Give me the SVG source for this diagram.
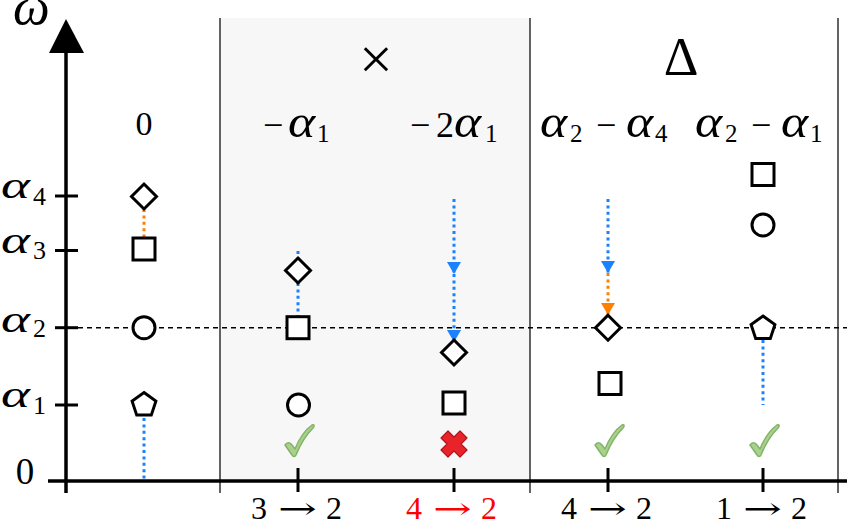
<svg xmlns="http://www.w3.org/2000/svg" width="847" height="526" viewBox="0 0 847 526">
<style>
.t{font-family:"Liberation Serif","DejaVu Serif",serif;fill:#000}
.i{font-style:italic}
.ya{font-size:38px;font-style:italic}
.ha{font-size:47px;font-style:italic}
.sub{font-size:26px}
.hs{font-size:25px}
.bl{font-size:32px}
.ar{font-family:"DejaVu Serif","Liberation Serif",serif;font-size:30px}
.red{fill:#ff0000}
.shape{fill:#fff;stroke:#000;stroke-width:3}
.blue{stroke:#1a82ff;stroke-width:3;stroke-dasharray:3 3.4;fill:none}
.orange{stroke:#ff8000;stroke-width:3;stroke-dasharray:3 3.4;fill:none}
.sep{stroke:#222;stroke-width:1.4}
.axis{stroke:#000;stroke-width:3.5;fill:none}
.tick{stroke:#000;stroke-width:3}
.check{fill:#a9d18e;stroke:#82b366;stroke-width:1.5;stroke-linejoin:round}
.cross{fill:#e8242a;stroke:#b5121b;stroke-width:1.2;stroke-linejoin:round}
</style>
<defs>
<polygon id="dia" class="shape" points="0,-12.5 12.5,0 0,12.5 -12.5,0"/>
<rect id="sq" class="shape" x="-11" y="-11" width="22" height="22"/>
<circle id="ci" class="shape" r="11"/>
<polygon id="pe" class="shape" points="0,-12.5 11.9,-3.9 7.3,10.1 -7.3,10.1 -11.9,-3.9"/>
<path id="chk" class="check" d="M-14,4 C-12,1 -9,1 -7,4 L-4,8 C0,-2 6,-11 13,-16 C15,-17 16,-15 14,-13 C7,-6 1,4 -3,14 C-4,16 -6,16 -7,14 Z"/>
<marker id="ab" viewBox="0 0 12 14" markerWidth="12" markerHeight="14" refX="12" refY="7" orient="auto" markerUnits="userSpaceOnUse"><path d="M0,0 L12,7 L0,14 Z" fill="#1a82ff"/></marker>
<marker id="ao" viewBox="0 0 12 14" markerWidth="12" markerHeight="14" refX="12" refY="7" orient="auto" markerUnits="userSpaceOnUse"><path d="M0,0 L12,7 L0,14 Z" fill="#ff8000"/></marker>
</defs>

<g id="background">
<rect x="220" y="18" width="310" height="463" fill="#f7f7f7"/>
<line class="sep" x1="220" y1="18" x2="220" y2="493"/>
<line class="sep" x1="530" y1="18" x2="530" y2="493"/>
<line class="sep" x1="838" y1="18" x2="838" y2="493"/>
<line x1="78" y1="327.7" x2="847" y2="327.7" stroke="#000" stroke-width="1.5" stroke-dasharray="5 4"/>
</g>

<g id="axes">
<line class="axis" x1="66" y1="45" x2="66" y2="493"/>
<polygon points="66,19 49,53 84,53" fill="#000"/>
<line class="axis" x1="48" y1="481" x2="847" y2="481"/>
<line class="tick" x1="55" y1="196" x2="78" y2="196"/>
<line class="tick" x1="55" y1="250.5" x2="78" y2="250.5"/>
<line class="tick" x1="55" y1="327.7" x2="78" y2="327.7"/>
<line class="tick" x1="55" y1="405" x2="78" y2="405"/>
<line class="tick" x1="298" y1="468" x2="298" y2="492"/>
<line class="tick" x1="454" y1="468" x2="454" y2="492"/>
<line class="tick" x1="608" y1="468" x2="608" y2="492"/>
<line class="tick" x1="763" y1="468" x2="763" y2="492"/>
</g>

<g id="ylabels">
<text class="t i" x="13" y="24" font-size="52">ω</text>
<text class="t ya" transform="translate(1,198) scale(1.45,1)">α</text><text class="t sub" x="33" y="205">4</text>
<text class="t ya" transform="translate(1,253) scale(1.45,1)">α</text><text class="t sub" x="33" y="259">3</text>
<text class="t ya" transform="translate(1,332) scale(1.45,1)">α</text><text class="t sub" x="33" y="337">2</text>
<text class="t ya" transform="translate(1,407) scale(1.45,1)">α</text><text class="t sub" x="33" y="414">1</text>
<text class="t" x="25" y="484" font-size="37" text-anchor="middle">0</text>
</g>

<g id="headers">
<text class="t" x="376" y="79" font-size="60" text-anchor="middle">×</text>
<text class="t" x="681" y="75" font-size="54" text-anchor="middle">Δ</text>
<text class="t" x="144" y="135" font-size="34" text-anchor="middle">0</text>
<text class="t" x="263" y="137" font-size="36">−</text><text class="t ha" transform="translate(288,137) scale(1.1,1)">α</text><text class="t hs" x="317" y="142">1</text>
<text class="t" x="410" y="137" font-size="36">−</text><text class="t" x="436" y="137" font-size="36">2</text><text class="t ha" transform="translate(454,137) scale(1.1,1)">α</text><text class="t hs" x="485" y="142">1</text>
<text class="t ha" transform="translate(540,137) scale(1.1,1)">α</text><text class="t hs" x="570" y="142">2</text><text class="t" x="596" y="137" font-size="36">−</text><text class="t ha" transform="translate(626,137) scale(1.1,1)">α</text><text class="t hs" x="655" y="142">4</text>
<text class="t ha" transform="translate(695,137) scale(1.1,1)">α</text><text class="t hs" x="725" y="142">2</text><text class="t" x="751" y="137" font-size="36">−</text><text class="t ha" transform="translate(781,137) scale(1.1,1)">α</text><text class="t hs" x="810" y="142">1</text>
</g>

<g id="connectors">
<line class="orange" x1="144" y1="209" x2="144" y2="238"/>
<line class="blue" x1="144" y1="418" x2="144" y2="481"/>
<line class="blue" x1="298" y1="251" x2="298" y2="316"/>
<line class="blue" x1="454" y1="199" x2="454" y2="274" marker-end="url(#ab)"/>
<line class="blue" x1="454" y1="274" x2="454" y2="342" marker-end="url(#ab)"/>
<line class="blue" x1="608" y1="199" x2="608" y2="273" marker-end="url(#ab)"/>
<line class="orange" x1="608" y1="273" x2="608" y2="315" marker-end="url(#ao)"/>
<line class="blue" x1="763" y1="340" x2="763" y2="405"/>
</g>

<g id="col0">
<use href="#dia" x="144" y="196.5"/>
<use href="#sq" x="144" y="249"/>
<use href="#ci" x="144" y="327.7"/>
<use href="#pe" x="144" y="405"/>
</g>
<g id="col1">
<use href="#dia" x="298" y="270.5"/>
<use href="#sq" x="298" y="327.7"/>
<use href="#ci" x="298.5" y="405"/>
<use href="#chk" x="299" y="441"/>
</g>
<g id="col2">
<use href="#dia" x="454" y="352.5"/>
<use href="#sq" x="454" y="403"/>
<path class="cross" d="M447,444 L441,438 L448,431 L454,437 L460,431 L467,438 L461,444 L467,450 L460,457 L454,451 L448,457 L441,450 Z"/>
</g>
<g id="col3">
<use href="#dia" x="608" y="327.7"/>
<use href="#sq" x="610" y="383.5"/>
<use href="#chk" x="609" y="441"/>
</g>
<g id="col4">
<use href="#sq" x="763" y="174.5"/>
<use href="#ci" x="763" y="225"/>
<use href="#pe" x="763" y="328.5"/>
<use href="#chk" x="764" y="441"/>
</g>

<g id="xlabels">
<text class="t bl" x="251" y="519">3</text><text class="t ar" transform="translate(278,519) scale(1.55,1)">→</text><text class="t bl" x="326" y="519">2</text>
<text class="t bl red" x="406" y="519">4</text><text class="t ar red" transform="translate(433,519) scale(1.55,1)">→</text><text class="t bl red" x="481" y="519">2</text>
<text class="t bl" x="561" y="519">4</text><text class="t ar" transform="translate(588,519) scale(1.55,1)">→</text><text class="t bl" x="636" y="519">2</text>
<text class="t bl" x="716" y="519">1</text><text class="t ar" transform="translate(743,519) scale(1.55,1)">→</text><text class="t bl" x="791" y="519">2</text>
</g>
</svg>
